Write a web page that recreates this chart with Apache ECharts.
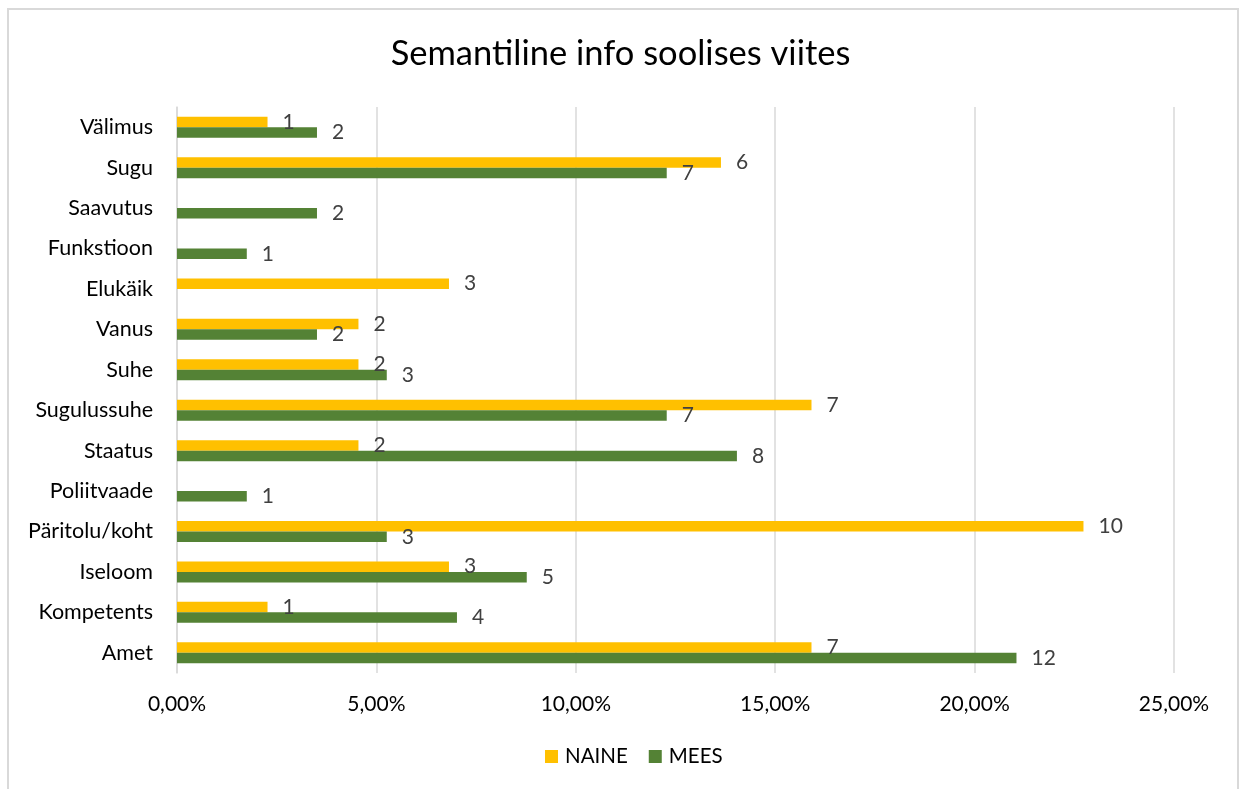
<!DOCTYPE html>
<html>
<head>
<meta charset="utf-8">
<script src="https://cdn.jsdelivr.net/npm/echarts@6/dist/echarts.min.js"></script>
<style>
html,body{margin:0;padding:0;background:#fff;}
#frame{position:absolute;left:7px;top:8px;width:1232px;height:800px;border:2px solid #d9d9d9;box-sizing:border-box;}
#chart{position:absolute;left:0;top:0;width:1241px;height:789px;}
</style>
</head>
<body>
<div id="frame"></div>
<div id="chart"></div>
<script>
// Categories from bottom to top
const categories = ['Amet','Kompetents','Iseloom','Päritolu/koht','Poliitvaade','Staatus','Sugulussuhe','Suhe','Vanus','Elukäik','Funkstioon','Saavutus','Sugu','Välimus'];
// Share (%) per category
const naineShare = [15.91, 2.27, 6.82, 22.73, null, 4.55, 15.91, 4.55, 4.55, 6.82, null, null, 13.64, 2.27];
const meesShare  = [21.05, 7.02, 8.77, 5.26, 1.75, 14.04, 12.28, 5.26, 3.51, null, 1.75, 3.51, 12.28, 3.51];
// Counts shown as data labels
const naineCount = [7, 1, 3, 10, null, 2, 7, 2, 2, 3, null, null, 6, 1];
const meesCount  = [12, 4, 5, 3, 1, 8, 7, 3, 2, null, 1, 2, 7, 2];
const xTicks = [0, 5, 10, 15, 20, 25];

const FONT = 'Lato';
const chart = echarts.init(document.getElementById('chart'), null, {renderer:'canvas'});
function labelFor(counts){
  return {
    show:true, position:'right', distance:15,
    color:'#404040', fontSize:21, fontFamily:FONT,
    formatter: p => counts[p.dataIndex] == null ? '' : String(counts[p.dataIndex])
  };
}
chart.setOption({
  animation:false,
  title:{
    text:'Semantiline info soolises viites', left:'center', top:31,
    textStyle:{fontFamily:FONT, fontSize:34.5, fontWeight:'normal', color:'#000'}
  },
  legend:{
    data:['NAINE','MEES'], bottom:17, left:540,
    itemWidth:13, itemHeight:13, itemGap:21, icon:'rect',
    textStyle:{fontFamily:FONT, fontSize:20.5, color:'#000', padding:[0,0,0,2]}
  },
  grid:{left:177, right:67, top:107, bottom:116, containLabel:false},
  xAxis:{
    type:'value', min:xTicks[0], max:xTicks[xTicks.length-1], interval:5,
    axisLine:{show:false}, axisTick:{show:false},
    splitLine:{lineStyle:{color:'#d9d9d9', width:1.5}},
    axisLabel:{
      margin:21, fontFamily:FONT, fontSize:21, color:'#000',
      formatter: v => v.toFixed(2).replace('.', ',') + '%'
    }
  },
  yAxis:{
    type:'category', data:categories,
    axisLine:{show:true, lineStyle:{color:'#d9d9d9', width:1.5}},
    axisTick:{show:false},
    axisLabel:{margin:24, fontFamily:FONT, fontSize:21.5, color:'#000'}
  },
  series:[
    {name:'NAINE', type:'bar', data:naineShare, barWidth:10.5, barGap:'0%',
     itemStyle:{color:'#FFC000'}, label:labelFor(naineCount)},
    {name:'MEES', type:'bar', data:meesShare, barWidth:10.5, barGap:'0%',
     itemStyle:{color:'#548235'}, label:labelFor(meesCount)}
  ]
});
</script>
</body>
</html>
